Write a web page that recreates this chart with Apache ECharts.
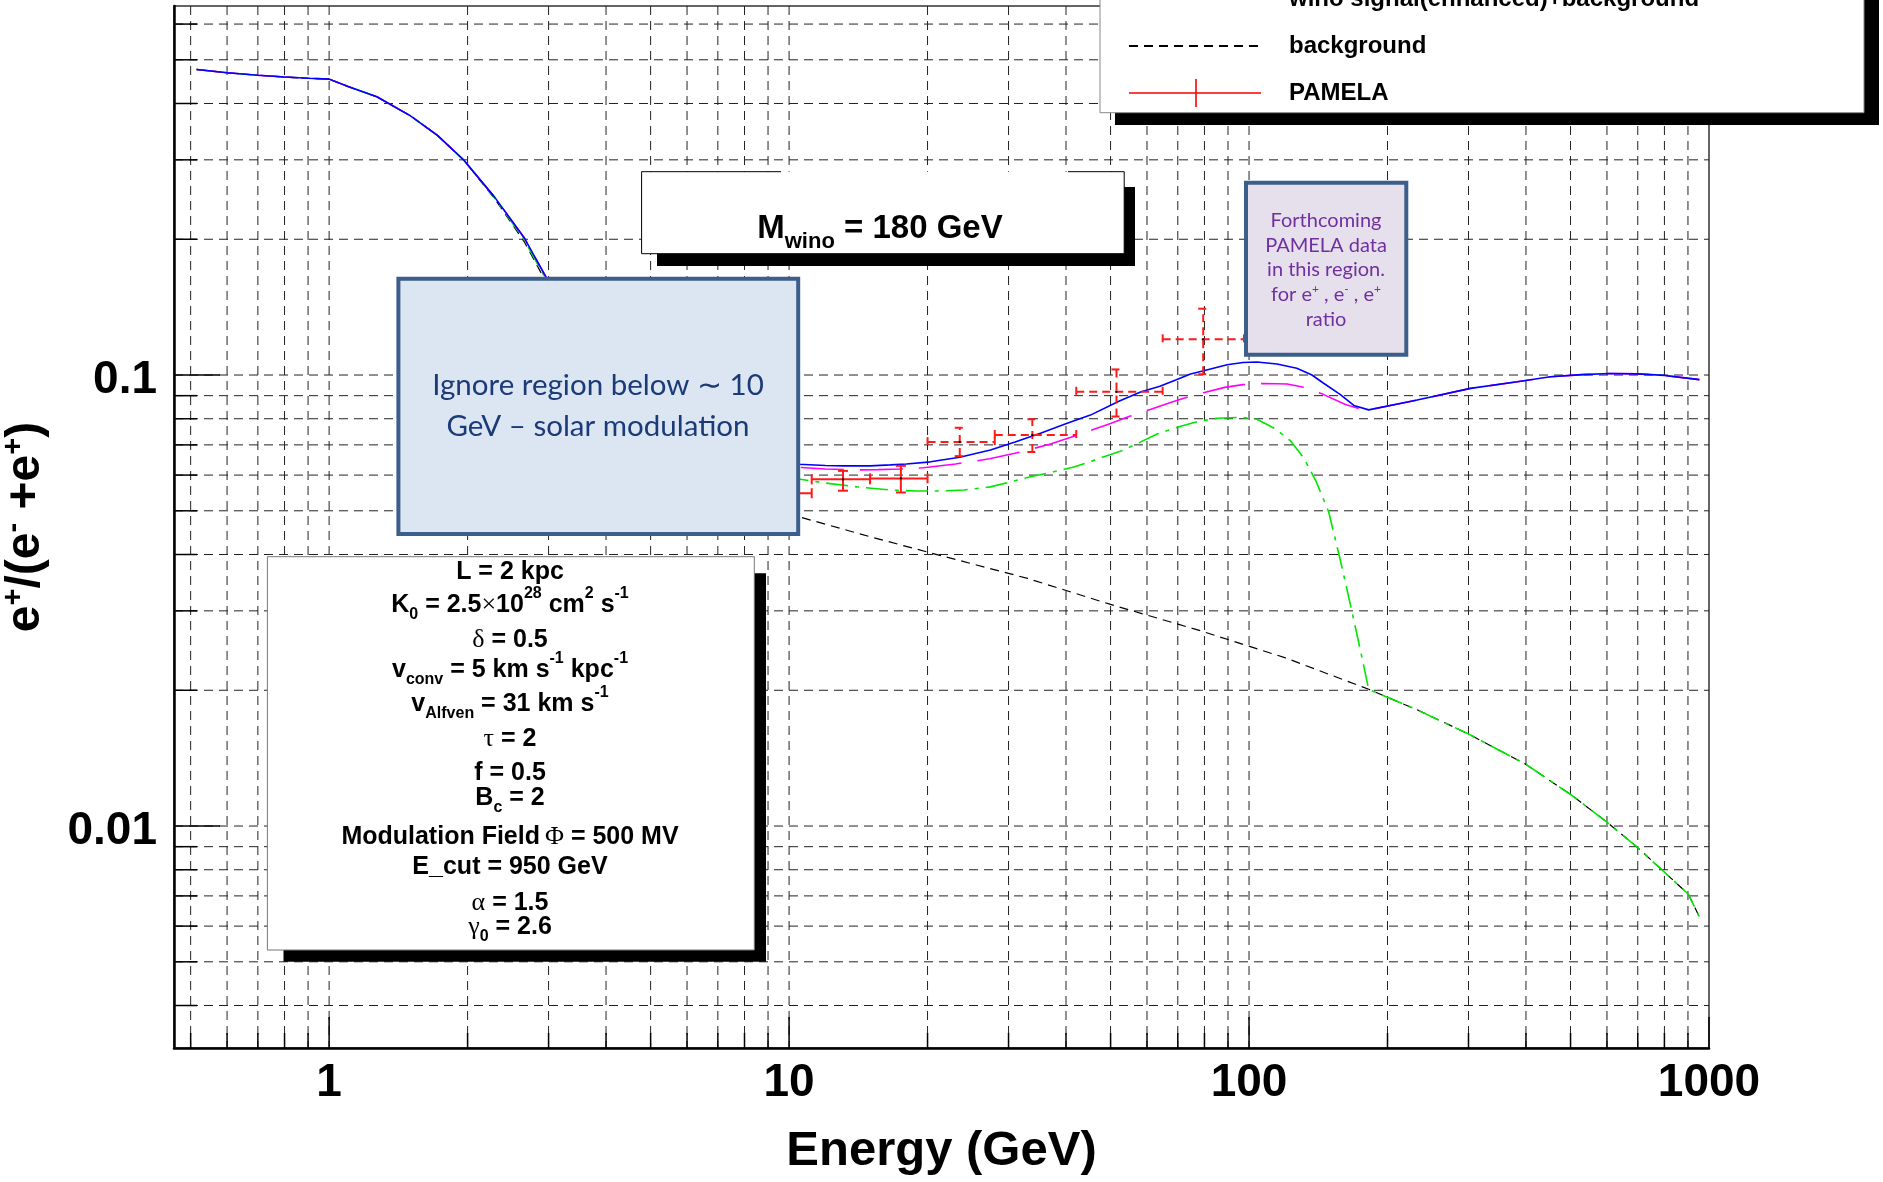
<!DOCTYPE html>
<html>
<head>
<meta charset="utf-8">
<script src="https://cdn.jsdelivr.net/npm/echarts@6/dist/echarts.min.js"></script>
<style>
html, body { margin: 0; padding: 0; background: #fff; }
#chart { width: 1883px; height: 1182px; }
</style>
</head>
<body>
<div id="chart"></div>
<script>
// axis ranges
var X_MIN = 0.46, X_MAX = 1000;
var Y_MIN = 0.00322, Y_MAX = 0.658;

// grid / tick positions
var xGridValues = [0.5, 0.6, 0.7, 0.8, 0.9, 1, 2, 3, 4, 5, 6, 7, 8, 9, 10, 20, 30, 40, 50, 60, 70, 80, 90,
  100, 200, 300, 400, 500, 600, 700, 800, 900, 1000];
var yGridValues = [0.004, 0.005, 0.006, 0.007, 0.008, 0.009, 0.01, 0.02, 0.03, 0.04, 0.05, 0.06, 0.07, 0.08, 0.09,
  0.1, 0.2, 0.3, 0.4, 0.5, 0.6];

// wino signal (enhanced) + background  (blue)
var enhancedE = [0.515, 0.6, 0.7, 0.8, 0.9, 1.0, 1.1, 1.27, 1.5, 1.72, 1.96, 2.29, 2.66, 2.96, 3.5, 4, 5, 6, 7, 8, 9,
  10.5, 12, 13.1, 15, 16.6, 18, 20.3, 23.5, 27.4, 31, 35.2, 40.1, 45.2, 52.4, 58.1, 64, 69.5, 74.6, 79.7, 89.6, 97,
  104, 115, 127, 137, 145, 158, 169, 182, 232, 303, 383, 452, 530, 608, 700, 800, 953];
var enhancedVal = [0.476, 0.468, 0.462, 0.458, 0.455, 0.453, 0.436, 0.414, 0.376, 0.340, 0.300, 0.248, 0.201, 0.165,
  0.128, 0.108, 0.087, 0.076, 0.070, 0.0665, 0.0648, 0.0634, 0.0630, 0.0629, 0.0629, 0.0632, 0.0635, 0.0642, 0.0657,
  0.0682, 0.0710, 0.0743, 0.0781, 0.0815, 0.0877, 0.0917, 0.0944, 0.0976, 0.1005, 0.1022, 0.1054, 0.1066, 0.1069,
  0.1058, 0.1035, 0.1000, 0.0960, 0.0905, 0.0856, 0.0837, 0.0880, 0.0934, 0.0966, 0.0991, 0.1002, 0.1008, 0.1006,
  0.0998, 0.0977];

// magenta curve
var magentaE = [0.515, 0.6, 0.7, 0.8, 0.9, 1.0, 1.1, 1.27, 1.5, 1.72, 1.96, 2.29, 2.66, 2.96, 3.5, 4, 5, 6, 7, 8, 9,
  10.5, 12, 14.06, 15.6, 17.5, 19.6, 23, 27.3, 32, 37, 41, 45, 50, 55, 61, 66.5, 72.1, 80, 88.5, 97, 108, 121, 131.6,
  145, 162, 177.6, 182, 232, 303, 383, 452, 530, 608, 700, 800, 953];
var magentaVal = [0.476, 0.468, 0.462, 0.458, 0.455, 0.453, 0.436, 0.414, 0.376, 0.340, 0.300, 0.248, 0.201, 0.165,
  0.127, 0.107, 0.086, 0.075, 0.069, 0.0655, 0.0637, 0.0624, 0.0619, 0.0616, 0.0617, 0.0619, 0.0623, 0.0635, 0.0652,
  0.0676, 0.0703, 0.0728, 0.0752, 0.0781, 0.0810, 0.0839, 0.0865, 0.0888, 0.0915, 0.0939, 0.0952, 0.0958, 0.0955,
  0.0939, 0.0906, 0.0860, 0.0837, 0.0837, 0.0880, 0.0934, 0.0966, 0.0991, 0.1002, 0.1008, 0.1006, 0.0998, 0.0977];

// green curve
var greenE = [0.515, 0.6, 0.7, 0.8, 0.9, 1.0, 1.1, 1.27, 1.5, 1.72, 1.96, 2.29, 2.66, 2.96, 3.5, 4, 5, 6, 7, 8, 9,
  10.5, 12, 14.06, 16.6, 19, 21.3, 24, 27.4, 30, 33.5, 37, 41.6, 47, 53.4, 58, 63.1, 69.8, 77.1, 85.2, 95.8, 104, 114,
  123, 131.5, 140, 149, 158, 167, 175, 182, 232, 300, 400, 503, 600, 696, 800, 902, 955];
var greenVal = [0.476, 0.468, 0.462, 0.458, 0.455, 0.453, 0.436, 0.414, 0.376, 0.340, 0.300, 0.247, 0.199, 0.163,
  0.123, 0.103, 0.083, 0.072, 0.066, 0.0625, 0.0605, 0.0588, 0.0576, 0.0565, 0.0556, 0.0553, 0.0553, 0.0556, 0.0565,
  0.0578, 0.0595, 0.0608, 0.0625, 0.0652, 0.0682, 0.0710, 0.0740, 0.0766, 0.0788, 0.0802, 0.0806, 0.0798, 0.0760,
  0.0715, 0.0655, 0.0580, 0.0497, 0.0388, 0.0302, 0.0243, 0.0201, 0.0181, 0.0160, 0.0137, 0.0117, 0.0102, 0.0090,
  0.0079, 0.00706, 0.00626];

// background
var backgroundE = [0.515, 0.6, 0.7, 0.8, 0.9, 1.0, 1.1, 1.27, 1.5, 1.72, 1.96, 2.29, 2.66, 2.96, 3.5, 4, 5, 6, 7, 8, 9,
  10.5, 15, 20, 33, 50, 78.4, 120, 182, 232, 300, 400, 503, 600, 696, 800, 902, 955];
var backgroundVal = [0.476, 0.468, 0.462, 0.458, 0.455, 0.453, 0.436, 0.414, 0.376, 0.340, 0.300, 0.246, 0.197, 0.161,
  0.120, 0.100, 0.080, 0.068, 0.060, 0.055, 0.052, 0.0485, 0.0438, 0.0405, 0.0354, 0.0310, 0.0271, 0.0236, 0.0201,
  0.0181, 0.0160, 0.0137, 0.0117, 0.0102, 0.0090, 0.0079, 0.00706, 0.00626];

// PAMELA points
var pamelaE = [10.0, 13.1, 17.5, 23.5, 33.8, 51.5, 79.5];
var pamelaELo = [8.9, 11.2, 15.0, 20.0, 28.0, 42.1, 64.9];
var pamelaEHi = [11.2, 15.0, 20.0, 28.0, 42.1, 64.9, 97.5];
var pamelaVal = [0.0547, 0.0587, 0.0590, 0.0710, 0.0736, 0.0918, 0.1200];
var pamelaLo = [0.0505, 0.0554, 0.0549, 0.0661, 0.0675, 0.0809, 0.1004];
var pamelaHi = [0.0590, 0.0613, 0.0629, 0.0764, 0.0798, 0.1029, 0.1403];

var FONT = 'Liberation Sans';

function isDecade(v) {
  var l = Math.log10(v);
  return Math.abs(l - Math.round(l)) < 1e-6;
}
function zip(a, b) {
  return a.map(function (x, i) { return [x, b[i]]; });
}

function renderXGrid(params, api) {
  var v = api.value(0);
  var top = api.coord([v, Y_MAX]);
  var bot = api.coord([v, Y_MIN]);
  var kids = [];
  if (v < X_MAX) {
    kids.push({ type: 'line', shape: { x1: top[0], y1: top[1], x2: bot[0], y2: bot[1] },
      style: { stroke: '#222', lineWidth: 1, lineDash: [9, 6] } });
  }
  kids.push({ type: 'line', shape: { x1: bot[0], y1: bot[1], x2: bot[0], y2: bot[1] - (isDecade(v) ? 31 : 15) },
    style: { stroke: '#000', lineWidth: 1.5 } });
  return { type: 'group', children: kids };
}

function renderYGrid(params, api) {
  var v = api.value(1);
  var l = api.coord([X_MIN, v]);
  var r = api.coord([X_MAX, v]);
  return { type: 'group', children: [
    { type: 'line', shape: { x1: l[0], y1: l[1], x2: r[0], y2: r[1] },
      style: { stroke: '#222', lineWidth: 1, lineDash: [9, 6] } },
    { type: 'line', shape: { x1: l[0], y1: l[1], x2: l[0] + (isDecade(v) ? 46 : 23), y2: l[1] },
      style: { stroke: '#000', lineWidth: 1.5 } }
  ] };
}

function renderPamela(params, api) {
  var y = api.value(1);
  var c = api.coord([api.value(0), y]);
  var l = api.coord([api.value(2), y]);
  var r = api.coord([api.value(3), y]);
  var b = api.coord([api.value(0), api.value(4)]);
  var t = api.coord([api.value(0), api.value(5)]);
  // last four points are drawn dashed in the original
  var st = { stroke: '#ff1a1a', lineWidth: 2, lineDash: params.dataIndex >= 3 ? [8, 5] : null };
  function seg(x1, y1, x2, y2) {
    return { type: 'line', shape: { x1: x1, y1: y1, x2: x2, y2: y2 }, style: st };
  }
  var cap = 5;
  return { type: 'group', children: [
    seg(l[0], l[1], r[0], r[1]),
    seg(b[0], b[1], t[0], t[1]),
    seg(l[0], l[1] - cap, l[0], l[1] + cap),
    seg(r[0], r[1] - cap, r[0], r[1] + cap),
    seg(b[0] - cap, b[1], b[0] + cap, b[1]),
    seg(t[0] - cap, t[1], t[0] + cap, t[1]),
    { type: 'rect', shape: { x: c[0] - 1, y: c[1] - 1, width: 2, height: 2 }, style: { fill: '#000' } }
  ] };
}

var paramRich = {
  m: { fontFamily: FONT, fontWeight: 'bold', fontSize: 25, fill: '#000' },
  g: { fontFamily: 'Liberation Serif', fontSize: 26, fill: '#000' },
  sb: { fontFamily: FONT, fontWeight: 'bold', fontSize: 16, fill: '#000', padding: [20, 0, 0, 0] },
  sp: { fontFamily: FONT, fontWeight: 'bold', fontSize: 16, fill: '#000', padding: [0, 0, 22, 0] }
};
var paramLines = [
  ['{m|L = 2 kpc}', 572],
  ['{m|K}{sb|0}{m| = 2.5}{g|×}{m|10}{sp|28}{m| cm}{sp|2}{m| s}{sp|-1}', 605],
  ['{g|δ}{m| = 0.5}', 640],
  ['{m|v}{sb|conv}{m| = 5 km s}{sp|-1}{m| kpc}{sp|-1}', 670],
  ['{m|v}{sb|Alfven}{m| = 31 km s}{sp|-1}', 704],
  ['{g|τ}{m| = 2}', 739],
  ['{m|f = 0.5}', 773],
  ['{m|B}{sb|c}{m| = 2}', 798],
  ['{m|Modulation Field\u2009}{g|Φ}{m| = 500 MV}', 837],
  ['{m|E_cut = 950 GeV}', 867],
  ['{g|α}{m| = 1.5}', 903],
  ['{g|γ}{sb|0}{m| = 2.6}', 927]
];

var noteRich = {
  t: { fontFamily: 'Lato', fontSize: 20, fill: '#7030a0' },
  s: { fontFamily: 'Lato', fontSize: 12, fill: '#7030a0', padding: [0, 0, 12, 0] }
};
var noteLines = [
  ['{t|Forthcoming}', 221],
  ['{t|PAMELA data}', 246],
  ['{t|in this region.}', 270],
  ['{t|for e}{s|+}{t| , e}{s|-}{t| , e}{s|+}', 295],
  ['{t|ratio}', 320]
];

var graphics = [
  // legend frame (cut off at the top of the canvas)
  { type: 'rect', z: 15, shape: { x: 1115, y: -20, width: 764, height: 145 }, style: { fill: '#000' } },
  { type: 'rect', z: 16, shape: { x: 1100, y: -20, width: 764, height: 132.7 },
    style: { fill: '#fff', stroke: '#888', lineWidth: 1 } },
  // M_wino label
  { type: 'rect', z: 10, shape: { x: 657, y: 187, width: 478, height: 79 }, style: { fill: '#000' } },
  { type: 'rect', z: 11, shape: { x: 641.6, y: 171.7, width: 482.6, height: 82 }, style: { fill: '#fff' } },
  { type: 'polyline', z: 12, shape: { points: [[781, 171.7], [641.6, 171.7], [641.6, 253.7], [1124.2, 253.7], [1124.2, 171.7], [1068, 171.7]] },
    style: { stroke: '#000', lineWidth: 1, fill: null } },
  { type: 'text', z: 12, x: 880, y: 229, style: {
      text: '{a|M}{b|wino}{a| = 180 GeV}', align: 'center', verticalAlign: 'middle',
      rich: { a: { fontFamily: FONT, fontWeight: 'bold', fontSize: 33, fill: '#000' },
              b: { fontFamily: FONT, fontWeight: 'bold', fontSize: 22, fill: '#000', padding: [25, 0, 0, 0] } } } },
  // purple note
  { type: 'rect', z: 10, shape: { x: 1246, y: 182.7, width: 160.3, height: 172 },
    style: { fill: '#e5e0ec', stroke: '#3b5e8b', lineWidth: 4 } },
  // blue note
  { type: 'rect', z: 10, shape: { x: 398.4, y: 278.7, width: 399.8, height: 255.3 },
    style: { fill: '#dce6f2', stroke: '#3b5e8b', lineWidth: 4 } },
  { type: 'text', z: 11, x: 598, y: 385, style: { text: 'Ignore region below \u223c 10', align: 'center', verticalAlign: 'middle',
      font: '29.5px Lato', fill: '#1b3a78' } },
  { type: 'text', z: 11, x: 598, y: 426, style: { text: 'GeV \u2013 solar modulation', align: 'center', verticalAlign: 'middle',
      font: '29.5px Lato', fill: '#1b3a78' } },
  // parameter box
  { type: 'rect', z: 10, shape: { x: 283.5, y: 573.3, width: 482.5, height: 388.4 }, style: { fill: '#000' } },
  { type: 'rect', z: 11, shape: { x: 267.4, y: 556.7, width: 486.9, height: 393.3 },
    style: { fill: '#fff', stroke: '#777', lineWidth: 1 } }
];
paramLines.forEach(function (p) {
  graphics.push({ type: 'text', z: 12, x: 510, y: p[1],
    style: { text: p[0], rich: paramRich, align: 'center', verticalAlign: 'middle' } });
});
noteLines.forEach(function (p) {
  graphics.push({ type: 'text', z: 11, x: 1326, y: p[1],
    style: { text: p[0], rich: noteRich, align: 'center', verticalAlign: 'middle' } });
});

var chart = echarts.init(document.getElementById('chart'), null, { renderer: 'canvas' });

var option = {
  animation: false,
  backgroundColor: '#fff',
  grid: {
    left: 174, right: 174, top: 6, bottom: 134,
    show: true, borderColor: '#333', borderWidth: 1.5,
    outerBoundsMode: 'none'
  },
  legend: {
    z: 20,
    orient: 'vertical',
    left: 1123, top: -20,
    itemWidth: 132, itemHeight: 28, itemGap: 19,
    selectedMode: false,
    textStyle: { fontFamily: FONT, fontWeight: 'bold', fontSize: 24, color: '#000', lineHeight: 28, padding: [0, 0, 0, 23] },
    data: [
      { name: 'wino signal(enhanced)+background', itemStyle: { opacity: 0 } },
      { name: 'background', itemStyle: { opacity: 0 } },
      { name: 'PAMELA', icon: 'path://M0,13.2h132v1.6H0z M66.2,0h1.6v28h-1.6z' }
    ]
  },
  xAxis: {
    type: 'log', logBase: 10, min: X_MIN, max: X_MAX,
    name: 'Energy (GeV)', nameLocation: 'middle', nameGap: 79,
    nameTextStyle: { fontFamily: FONT, fontWeight: 'bold', fontSize: 49, color: '#000' },
    axisLine: { show: true, lineStyle: { color: '#000', width: 2.5 } },
    axisTick: { show: false },
    splitLine: { show: false },
    axisLabel: {
      margin: 12, fontFamily: FONT, fontWeight: 'bold', fontSize: 46, color: '#000',
      formatter: function (v) { return isDecade(v) ? String(+v.toPrecision(6)) : ''; }
    }
  },
  yAxis: {
    type: 'log', logBase: 10, min: Y_MIN, max: Y_MAX,
    name: '{b|e}{s|+}{b|/(e}{s|-}{b| +e}{s|+}{b|)}', nameLocation: 'middle', nameGap: 122, nameRotate: 90,
    nameTextStyle: {
      rich: {
        b: { fontFamily: FONT, fontWeight: 'bold', fontSize: 48, color: '#000' },
        s: { fontFamily: FONT, fontWeight: 'bold', fontSize: 29, color: '#000', padding: [0, 0, 24, 0] }
      }
    },
    axisLine: { show: true, lineStyle: { color: '#000', width: 2.5 } },
    axisTick: { show: false },
    splitLine: { show: false },
    axisLabel: {
      margin: 17,
      formatter: function (v) { return isDecade(v) ? '{n|' + (+v.toPrecision(6)) + '}' : ''; },
      rich: {
        n: { fontFamily: FONT, fontWeight: 'bold', fontSize: 46, color: '#000', padding: [10, 0, 0, 0] }
      }
    }
  },
  graphic: { elements: graphics },
  series: [
    { name: 'xgrid', type: 'custom', silent: true, z: 1, encode: { x: 0, y: 1 },
      data: xGridValues.map(function (v) { return [v, Y_MIN]; }), renderItem: renderXGrid },
    { name: 'ygrid', type: 'custom', silent: true, z: 1, encode: { x: 0, y: 1 },
      data: yGridValues.map(function (v) { return [X_MIN, v]; }), renderItem: renderYGrid },
    { name: 'background', type: 'line', z: 3, symbol: 'none', silent: true,
      lineStyle: { color: '#000', width: 1.2, type: [9, 6] }, itemStyle: { color: '#000' },
      data: zip(backgroundE, backgroundVal) },
    { name: 'wino signal+background', type: 'line', z: 4, symbol: 'none', silent: true,
      lineStyle: { color: '#00e600', width: 1.6, type: [22, 7, 4, 7] }, itemStyle: { color: '#00e600' },
      data: zip(greenE, greenVal) },
    { name: 'wino signal(partially enhanced)+background', type: 'line', z: 5, symbol: 'none', silent: true,
      lineStyle: { color: '#ff00ff', width: 1.6, type: [43, 16] }, itemStyle: { color: '#ff00ff' },
      data: zip(magentaE, magentaVal) },
    { name: 'wino signal(enhanced)+background', type: 'line', z: 6, symbol: 'none', silent: true,
      lineStyle: { color: '#0000ff', width: 1.6 }, itemStyle: { color: '#0000ff' },
      data: zip(enhancedE, enhancedVal) },
    { name: 'PAMELA', type: 'custom', z: 7, silent: true, encode: { x: 0, y: 1 },
      itemStyle: { color: '#ff0000' },
      data: pamelaE.map(function (e, i) {
        return [e, pamelaVal[i], pamelaELo[i], pamelaEHi[i], pamelaLo[i], pamelaHi[i]];
      }),
      renderItem: renderPamela }
  ]
};

chart.setOption(option);
</script>
</body>
</html>
